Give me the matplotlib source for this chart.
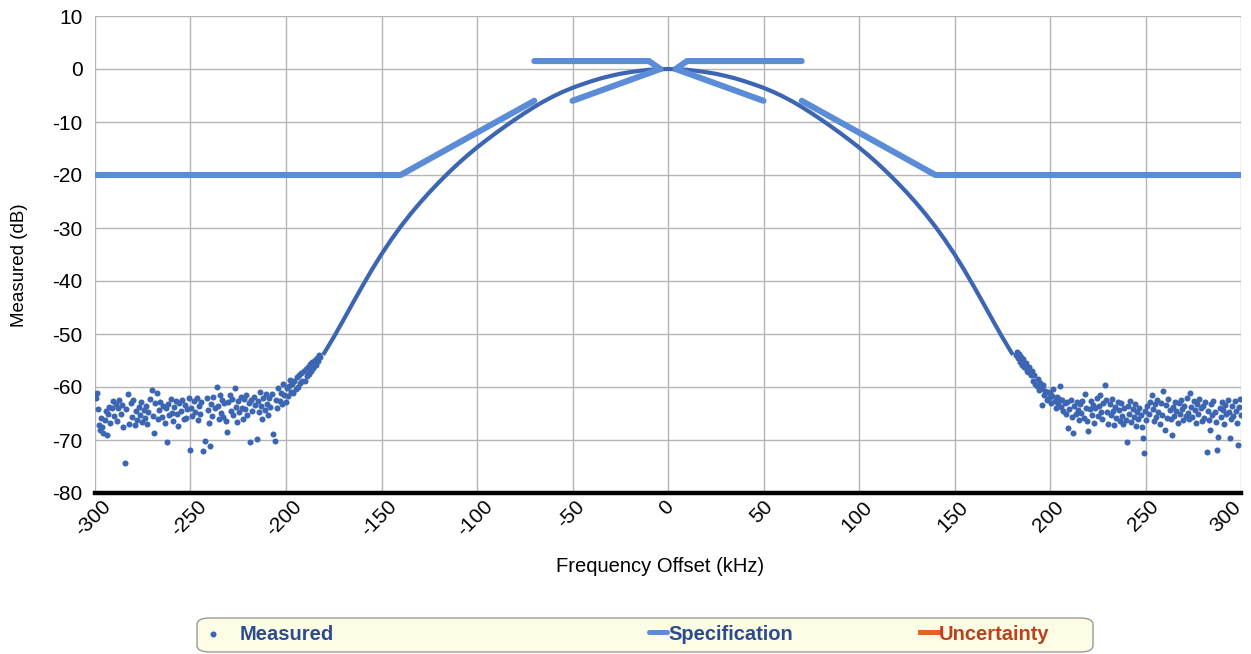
import numpy as np
import matplotlib.pyplot as plt
from matplotlib.patches import FancyBboxPatch
from matplotlib.ticker import MultipleLocator
from matplotlib.transforms import ScaledTranslation

# ========================================================
# DATA

# smooth part of the measured response, kHz / dB
core_freq = [-180, -175, -170, -165, -160, -155, -150, -145, -140, -135, -130,
             -125, -120, -115, -110, -105, -100, -95, -90, -85, -80, -75, -70,
             -65, -60, -55, -50, -45, -40, -35, -30, -25, -20, -15, -10, -5, 0,
             5, 10, 15, 20, 25, 30, 35, 40, 45, 50, 55, 60, 65, 70, 75, 80, 85,
             90, 95, 100, 105, 110, 115, 120, 125, 130, 135, 140, 145, 150, 155,
             160, 165, 170, 175, 180]
core_db = [-53.6, -50.6, -47.4, -44.15, -40.95, -37.85, -34.95, -32.25, -29.75,
           -27.45, -25.3, -23.3, -21.4, -19.6, -17.9, -16.3, -14.8, -13.4, -12.05,
           -10.75, -9.5, -8.3, -7.15, -6.1, -5.15, -4.3, -3.55, -2.9, -2.3, -1.75,
           -1.3, -0.9, -0.6, -0.35, -0.15, -0.05, 0.0, -0.05, -0.15, -0.35, -0.6,
           -0.9, -1.3, -1.75, -2.3, -2.9, -3.55, -4.3, -5.15, -6.1, -7.15, -8.3,
           -9.5, -10.75, -12.05, -13.4, -14.8, -16.3, -17.9, -19.6, -21.4, -23.3,
           -25.3, -27.45, -29.75, -32.25, -34.95, -37.85, -40.95, -44.15, -47.4,
           -50.6, -53.6]

# noisy skirts of the measured response, (kHz, dB)
left_skirt = [
    (-300.0, -61.3), (-299.6, -62.0), (-299.0, -61.2), (-298.6, -64.2), (-298.0, -67.2),
    (-297.4, -68.1), (-296.8, -65.8), (-296.2, -67.5), (-295.6, -68.7), (-295.0, -66.2),
    (-294.4, -64.5), (-293.9, -69.1), (-293.2, -65.1), (-292.6, -63.8), (-292.0, -66.8),
    (-291.2, -64.0), (-290.6, -62.6), (-290.0, -65.5), (-289.2, -63.2), (-288.6, -66.4),
    (-288.0, -63.9), (-287.2, -62.5), (-286.6, -65.0), (-286.0, -63.4), (-285.2, -67.6),
    (-284.3, -74.3), (-283.6, -64.1), (-282.5, -61.3), (-282.0, -66.9), (-281.2, -63.0),
    (-280.6, -65.7), (-280.0, -62.4), (-279.2, -67.1), (-278.6, -64.6), (-278.0, -66.3),
    (-277.2, -63.7), (-276.6, -65.2), (-276.0, -62.8), (-275.2, -66.6), (-274.6, -64.3),
    (-274.0, -65.9), (-273.2, -63.5), (-272.6, -67.0), (-272.0, -64.8), (-271.2, -62.3),
    (-270.3, -60.6), (-269.6, -65.4), (-269.0, -68.6), (-268.4, -63.1), (-267.7, -61.1),
    (-267.0, -66.0), (-266.4, -64.4), (-265.8, -62.9), (-265.0, -65.6), (-264.4, -63.6),
    (-263.6, -66.7), (-263.0, -64.0), (-262.5, -70.3), (-261.8, -63.3), (-261.2, -65.3),
    (-260.4, -62.2), (-259.8, -64.9), (-259.0, -66.5), (-258.4, -63.8), (-257.8, -62.7),
    (-257.0, -65.1), (-256.4, -67.3), (-255.8, -63.0), (-255.0, -64.6), (-254.4, -62.5),
    (-253.6, -66.1), (-253.0, -63.4), (-252.4, -65.8), (-251.6, -64.1), (-251.0, -62.1),
    (-250.3, -71.8), (-249.6, -63.9), (-249.0, -65.5), (-248.4, -62.6), (-247.6, -64.7),
    (-246.8, -62.0), (-246.2, -66.2), (-245.6, -63.5), (-245.0, -65.0), (-244.4, -62.9),
    (-243.3, -72.1), (-242.4, -70.1), (-241.5, -62.1), (-241.0, -64.4), (-240.4, -66.8),
    (-239.8, -71.1), (-239.2, -63.2), (-238.6, -65.4), (-238.0, -61.8), (-237.4, -64.0),
    (-236.3, -60.0), (-235.8, -63.6), (-235.2, -66.0), (-234.6, -61.5), (-234.0, -64.9),
    (-233.4, -62.4), (-232.8, -65.6), (-232.2, -63.1), (-231.6, -66.4), (-230.7, -68.4),
    (-230.2, -62.8), (-229.3, -61.5), (-228.8, -64.5), (-228.2, -62.2), (-227.6, -65.2),
    (-226.7, -60.1), (-226.2, -63.7), (-225.6, -66.6), (-225.0, -62.6), (-224.4, -64.8),
    (-223.8, -61.9), (-223.2, -63.9), (-222.6, -66.1), (-222.0, -62.3), (-221.4, -64.2),
    (-220.8, -61.6), (-220.2, -65.3), (-219.6, -63.0), (-218.8, -70.3), (-218.2, -62.5),
    (-217.6, -64.6), (-217.0, -61.9), (-216.4, -63.4), (-215.3, -69.9), (-214.8, -62.7),
    (-214.2, -64.8), (-213.6, -60.9), (-213.0, -63.6), (-212.4, -66.0), (-211.8, -62.0),
    (-211.2, -64.3), (-210.6, -61.4), (-210.0, -63.3), (-209.4, -65.2), (-208.8, -62.1),
    (-208.2, -63.8), (-207.5, -61.3), (-206.6, -68.9), (-206.0, -70.2), (-205.4, -62.4),
    (-204.8, -63.9), (-204.0, -60.1), (-203.4, -62.6), (-202.8, -61.2), (-202.2, -63.3),
    (-201.4, -59.4), (-200.8, -61.6), (-200.2, -62.8), (-199.6, -60.2), (-199.0, -61.7),
    (-198.4, -59.8), (-197.9, -58.7), (-197.4, -61.0), (-196.8, -59.5), (-196.2, -61.2),
    (-195.6, -58.9), (-195.0, -60.4), (-194.4, -58.1), (-193.8, -60.0), (-193.2, -57.8),
    (-192.6, -59.3), (-192.0, -57.4), (-191.4, -58.8), (-190.8, -57.0), (-190.2, -58.9),
    (-189.6, -56.6), (-189.2, -57.9), (-188.6, -56.2), (-188.0, -57.6), (-187.4, -55.6),
    (-186.8, -56.9), (-186.2, -55.3), (-185.7, -56.4), (-185.0, -54.9), (-184.4, -55.8),
    (-183.8, -54.5), (-183.2, -55.1), (-182.6, -54.0), (-182.0, -54.4),
]

right_skirt = [
    (182.0, -54.0), (182.6, -53.4), (183.2, -54.6), (183.8, -53.7), (184.4, -55.2),
    (185.0, -54.3), (185.6, -55.9), (186.0, -54.8), (186.6, -56.3), (187.2, -55.4),
    (187.8, -56.9), (188.6, -57.1), (189.2, -56.2), (189.8, -57.8), (190.4, -57.0),
    (191.3, -58.8), (191.8, -57.7), (192.4, -59.4), (193.0, -59.8), (193.6, -58.4),
    (194.2, -60.5), (194.8, -59.2), (195.6, -63.4), (196.0, -60.1), (196.5, -59.6),
    (197.0, -61.6), (197.6, -60.8), (198.2, -62.4), (198.8, -60.9), (199.4, -62.0),
    (200.0, -61.2), (200.6, -63.1), (201.2, -61.7), (201.7, -60.3), (202.4, -62.6),
    (203.0, -64.0), (203.6, -61.9), (204.2, -63.3), (204.8, -62.2), (205.2, -59.8),
    (205.8, -63.8), (206.4, -62.5), (207.0, -64.6), (207.6, -63.0), (208.2, -65.1),
    (208.8, -62.8), (209.6, -67.8), (210.2, -64.1), (210.8, -62.4), (211.4, -65.6),
    (212.2, -68.7), (212.8, -63.5), (213.4, -65.0), (214.0, -62.9), (214.6, -64.4),
    (215.2, -66.2), (215.8, -63.2), (216.4, -64.9), (217.0, -62.6), (217.6, -65.8),
    (218.3, -61.3), (218.8, -63.9), (219.4, -66.5), (220.1, -68.3), (220.8, -64.2),
    (221.4, -62.7), (222.0, -65.3), (222.6, -63.4), (223.2, -66.8), (223.8, -64.0),
    (224.4, -62.1), (225.0, -65.5), (225.6, -63.6), (226.2, -61.5), (226.8, -64.7),
    (227.4, -66.0), (228.0, -63.0), (228.8, -59.6), (229.4, -62.4), (230.0, -64.8),
    (230.6, -66.9), (231.2, -63.3), (231.8, -65.2), (232.4, -62.2), (233.0, -64.5),
    (233.6, -67.2), (234.2, -63.7), (234.8, -65.9), (235.4, -62.9), (236.0, -64.3),
    (236.6, -66.4), (237.2, -63.1), (237.8, -65.4), (238.4, -67.0), (239.0, -64.0),
    (239.6, -66.2), (240.1, -70.3), (240.8, -63.5), (241.4, -65.1), (242.0, -62.6),
    (242.6, -66.6), (243.2, -64.2), (243.8, -65.7), (244.4, -63.3), (245.0, -67.4),
    (245.6, -64.8), (246.2, -66.0), (246.8, -63.9), (247.4, -65.3), (248.0, -67.6),
    (248.8, -69.7), (249.2, -72.4), (249.8, -64.5), (250.4, -66.3), (251.0, -63.6),
    (251.6, -65.0), (252.2, -62.8), (253.2, -61.5), (253.8, -64.1), (254.4, -66.5),
    (255.0, -63.2), (255.6, -65.6), (256.2, -62.4), (256.8, -64.7), (257.4, -66.9),
    (258.0, -63.0), (258.6, -65.2), (259.3, -60.7), (260.2, -68.1), (260.8, -63.4),
    (261.4, -65.8), (262.0, -62.2), (262.6, -64.3), (263.2, -66.1), (263.7, -69.1),
    (264.4, -63.7), (265.0, -65.4), (265.6, -62.9), (266.2, -64.6), (266.8, -66.7),
    (267.4, -63.1), (268.0, -65.0), (268.6, -62.5), (269.2, -64.2), (269.8, -66.3),
    (270.4, -63.6), (271.0, -65.5), (271.6, -62.0), (272.2, -64.9), (272.8, -66.0),
    (273.3, -61.1), (274.0, -63.8), (274.6, -65.7), (275.2, -62.7), (275.8, -64.4),
    (276.4, -66.8), (277.0, -63.3), (277.6, -65.1), (278.2, -62.3), (278.8, -64.0),
    (279.4, -66.4), (280.0, -63.5), (280.6, -65.9), (281.2, -62.8), (282.0, -72.2),
    (282.6, -64.6), (283.2, -66.2), (283.7, -68.1), (284.4, -63.2), (285.0, -65.3),
    (285.6, -62.6), (286.2, -64.8), (286.8, -66.6), (287.2, -71.8), (288.1, -69.4),
    (288.8, -63.9), (289.4, -65.6), (290.0, -62.9), (290.6, -64.3), (291.2, -66.9),
    (291.8, -63.4), (292.4, -65.0), (293.0, -62.4), (293.6, -64.7), (294.2, -69.7),
    (294.8, -66.1), (295.4, -63.6), (296.0, -65.4), (296.6, -62.6), (297.2, -64.5),
    (297.8, -66.8), (298.6, -71.0), (299.0, -63.8), (299.5, -62.3), (300.0, -65.2),
]

# specification mask, one list per drawn segment
spec_segments = [
    ([-300, -140, -70], [-20, -20, -6]),
    ([-70, -10, -4], [1.5, 1.5, 0]),
    ([-50, -4], [-6, 0]),
    ([4, 10, 70], [0, 1.5, 1.5]),
    ([4, 50], [0, -6]),
    ([70, 140, 300], [-6, -20, -20]),
]

# no uncertainty values are visible in the chart
uncertainty_freq = []
uncertainty_db = []

x_ticks = [-300, -250, -200, -150, -100, -50, 0, 50, 100, 150, 200, 250, 300]

MEAS_COLOR = "#3c66b1"
SPEC_COLOR = "#5b8cd8"
UNC_COLOR = "#e8641e"
FONT = ["Liberation Sans", "DejaVu Sans"]

# ========================================================
# PLOT

plt.rcParams["font.family"] = FONT
plt.rcParams["axes.unicode_minus"] = False

fig = plt.figure(figsize=(12.51, 6.54), dpi=100)
ax = fig.add_axes([95 / 1251, 1 - 493 / 654, 1146 / 1251, 477 / 654])

skirt_f, skirt_db = zip(*(left_skirt + right_skirt))
meas = ax.scatter(skirt_f, skirt_db, s=19, color=MEAS_COLOR, linewidths=0,
                  zorder=3, label="Measured")
ax.plot(core_freq, core_db, color=MEAS_COLOR, lw=3.0, zorder=3)

spec_line = None
for f, db in spec_segments:
    (ln,) = ax.plot(f, db, color=SPEC_COLOR, lw=4.4, solid_capstyle="round",
                    solid_joinstyle="round", zorder=4)
    spec_line = spec_line or ln
spec_line.set_label("Specification")
(unc_line,) = ax.plot(uncertainty_freq, uncertainty_db, color=UNC_COLOR, lw=4.4,
                      label="Uncertainty")

ax.set_xlim(-300, 300)
ax.set_ylim(-80, 10)
ax.set_xticks(x_ticks)
ax.yaxis.set_major_locator(MultipleLocator(10))
ax.grid(True, color="#b5b5b5", lw=1.0)
ax.set_axisbelow(True)
for side in ("left", "right", "top"):
    ax.spines[side].set_visible(False)
ax.spines["bottom"].set_linewidth(3.2)
ax.spines["bottom"].set_color("black")
ax.spines["bottom"].set_zorder(5)

ax.tick_params(axis="y", length=0, labelsize=15, pad=9)
ax.tick_params(axis="x", length=0, labelsize=15, pad=3)
for tick, lbl in zip(x_ticks, ax.get_xticklabels()):
    lbl.set_rotation(45)
    lbl.set_ha("center")
    # keep the last label inside the figure
    shift = -15 if tick == x_ticks[-1] else -2
    lbl.set_transform(lbl.get_transform() + ScaledTranslation(shift / 100, 0, fig.dpi_scale_trans))

ax.set_xlabel("Frequency Offset (kHz)", fontsize=14.5)
ax.set_ylabel("Measured (dB)", fontsize=13.5)
ax.xaxis.set_label_coords((660 - 95) / 1146, (493 - 557) / 477)
ax.yaxis.set_label_coords((28 - 95) / 1146, (493 - 265) / 477)

# legend box along the bottom
box = FancyBboxPatch((197 / 1251, 1 - 652 / 654), (1093 - 197) / 1251, 34 / 654,
                     boxstyle="round,pad=0,rounding_size=0.01",
                     transform=fig.transFigure, facecolor="#fdfde6",
                     edgecolor="#9a9a9a", lw=1.0, zorder=0)
fig.patches.append(box)

entries = [
    (meas, "Measured", "#2d4c8e", 204, 0.85),
    (spec_line, "Specification", "#2d4c8e", 649, 0.05),
    (unc_line, "Uncertainty", "#b8431c", 920, 0.05),
]
for handle, text, color, x0, gap in entries:
    leg = fig.legend([handle], [text], loc="center left",
                     bbox_to_anchor=(x0 / 1251, 1 - 634 / 654),
                     frameon=False, borderpad=0, borderaxespad=0,
                     handlelength=0.9, handletextpad=gap,
                     prop={"size": 14.5, "weight": "bold"})
    for t in leg.get_texts():
        t.set_color(color)
    for h in leg.legend_handles:
        if hasattr(h, "set_linewidth") and handle is not meas:
            h.set_linewidth(3.6)

fig.savefig("out.png", dpi=100, facecolor="white")
